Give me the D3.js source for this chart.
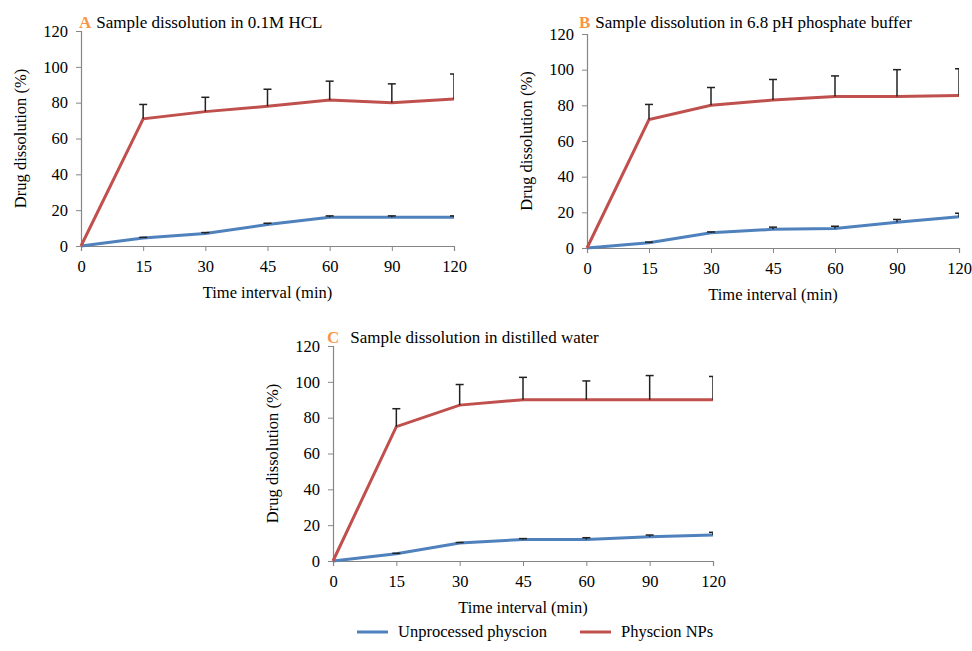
<!DOCTYPE html>
<html>
<head>
<meta charset="utf-8">
<script src="https://cdn.jsdelivr.net/npm/d3@7"></script>
<style>
  body { margin: 0; background: #fff; }
  svg text { font-family: "Liberation Serif", "Times New Roman", serif; fill: #000; }
  .tick text { font-size: 16.5px; }
  .axis path, .axis line { stroke: #868686; }
</style>
</head>
<body>
<svg width="972" height="651"></svg>
<script>
const times = ["0", "15", "30", "45", "60", "90", "120"]
const yTicks = [0, 20, 40, 60, 80, 100, 120]
const seriesNames = ["Unprocessed physcion", "Physcion NPs"]
const panelLetters = ["A", "B", "C"]
const panelTitles = ["Sample dissolution in 0.1M HCL", "Sample dissolution in 6.8 pH phosphate buffer", "Sample dissolution in distilled water"]

// panel A - 0.1M HCL
const hclFree = [0, 4.5, 7, 12, 16, 16, 16]
const hclFreeErr = [0, 0.3, 0.5, 0.7, 0.8, 0.8, 0.8]
const hclNps = [0, 71, 75, 78, 81.5, 80, 82]
const hclNpsErr = [0, 8, 8, 9.5, 10.5, 10.5, 14]

// panel B - 6.8 pH buffer
const bufFree = [0, 3, 8.5, 10.5, 11, 14.5, 17.5]
const bufFreeErr = [0, 0.3, 0.5, 1.2, 1.2, 1.5, 2]
const bufNps = [0, 72, 80, 83, 85, 85, 85.5]
const bufNpsErr = [0, 8.5, 10, 11.5, 11.5, 15, 15]

// panel C - distilled water
const waterFree = [0, 4, 10, 12, 12, 13.5, 14.5]
const waterFreeErr = [0, 0.3, 0.3, 0.5, 1, 1, 1.5]
const waterNps = [0, 75, 87, 90, 90, 90, 90]
const waterNpsErr = [0, 10, 11.5, 12.5, 10.5, 13.5, 13]

const colors = ["#4f81bd", "#c0504d"]

const panels = [
    {free: hclFree, freeErr: hclFreeErr, nps: hclNps, npsErr: hclNpsErr,
     left: 81, right: 454, top: 31, bottom: 246, titleX: 79, titleY: 28, gap: 5},
    {free: bufFree, freeErr: bufFreeErr, nps: bufNps, npsErr: bufNpsErr,
     left: 587, right: 959, top: 34, bottom: 248, titleX: 579, titleY: 28, gap: 5},
    {free: waterFree, freeErr: waterFreeErr, nps: waterNps, npsErr: waterNpsErr,
     left: 333, right: 713, top: 346, bottom: 561, titleX: 327, titleY: 343, gap: 11}
]

const svg = d3.select("svg")

panels.forEach((p, pi) => {
    const x = d3.scalePoint()
        .domain(times)
        .range([p.left, p.right])
        .padding(0)

    const y = d3.scaleLinear()
        .domain([0, 120])
        .range([p.bottom, p.top])

    const g = svg.append("g").attr("class", "panel")

    g.append("clipPath")
        .attr("id", "clip" + pi)
        .append("rect")
        .attr("x", p.left - 10)
        .attr("y", p.top - 20)
        .attr("width", p.right - p.left + 10)
        .attr("height", p.bottom - p.top + 30)

    g.append("g")
        .attr("class", "axis")
        .attr("transform", `translate(0,${p.bottom})`)
        .call(d3.axisBottom(x).tickSizeOuter(5).tickSize(5).tickPadding(6))
        .call(a => a.selectAll(".tick text").attr("dy", "0.9em"))

    g.append("g")
        .attr("class", "axis")
        .attr("transform", `translate(${p.left},0)`)
        .call(d3.axisLeft(y).tickValues(yTicks).tickSize(5).tickSizeOuter(5).tickPadding(8))

    g.selectAll(".axis").attr("font-family", null)
    g.selectAll(".domain").attr("stroke-width", 1.2)

    const line = d3.line()
        .x((d, i) => x(times[i]))
        .y(d => y(d))

    const sets = [
        {vals: p.free, err: p.freeErr, color: colors[0]},
        {vals: p.nps, err: p.npsErr, color: colors[1]}
    ]

    sets.forEach(s => {
        g.append("path")
            .datum(s.vals)
            .attr("d", line)
            .attr("fill", "none")
            .attr("stroke", s.color)
            .attr("stroke-width", 3)
    })

    sets.forEach(s => {
        const bars = g.append("g")
            .attr("clip-path", `url(#clip${pi})`)
            .selectAll("g.err")
            .data(s.vals.map((v, i) => ({t: times[i], v: v, e: s.err[i]})).filter(d => d.e > 0))
            .enter()
            .append("g")
            .attr("class", "err")

        bars.append("line")
            .attr("x1", d => x(d.t))
            .attr("x2", d => x(d.t))
            .attr("y1", d => y(d.v))
            .attr("y2", d => y(d.v + d.e))
            .attr("stroke", "#222")
            .attr("stroke-width", 1.5)

        bars.append("line")
            .attr("x1", d => x(d.t) - 4)
            .attr("x2", d => x(d.t) + 4)
            .attr("y1", d => y(d.v + d.e))
            .attr("y2", d => y(d.v + d.e))
            .attr("stroke", "#222")
            .attr("stroke-width", 1.5)
    })

    const title = g.append("text")
        .attr("x", p.titleX)
        .attr("y", p.titleY)
        .style("font-size", "17px")
    title.append("tspan")
        .text(panelLetters[pi])
        .style("fill", "#f79646")
        .attr("font-weight", "bold")
    title.append("tspan")
        .attr("dx", p.gap)
        .text(panelTitles[pi])

    g.append("text")
        .attr("x", (p.left + p.right) / 2)
        .attr("y", p.bottom + 52)
        .attr("text-anchor", "middle")
        .style("font-size", "16.5px")
        .text("Time interval (min)")

    g.append("text")
        .attr("transform", `translate(${p.left - 55},${(p.top + p.bottom) / 2}) rotate(-90)`)
        .attr("text-anchor", "middle")
        .style("font-size", "16.5px")
        .text("Drug dissolution (%)")
})

const legendX = d3.scaleOrdinal()
    .domain(seriesNames)
    .range([357, 580])

const legend = svg.selectAll("g.legend")
    .data(seriesNames)
    .enter()
    .append("g")
    .attr("class", "legend")
    .attr("transform", d => `translate(${legendX(d)},632)`)

legend.append("line")
    .attr("x1", 0)
    .attr("x2", 31)
    .attr("stroke", (d, i) => colors[i])
    .attr("stroke-width", 3)

legend.append("text")
    .attr("x", 41)
    .attr("y", 5)
    .style("font-size", "16.5px")
    .text(d => d)
</script>
</body>
</html>
